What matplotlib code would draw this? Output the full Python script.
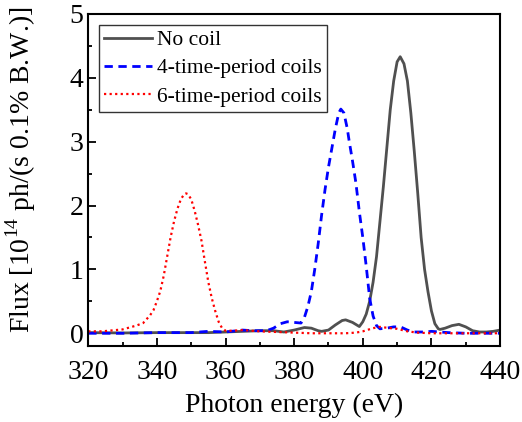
import matplotlib

matplotlib.use("Agg")
import matplotlib.pyplot as plt
from matplotlib.ticker import MultipleLocator

plt.rcParams["font.family"] = ["Liberation Serif", "DejaVu Serif"]
plt.rcParams["mathtext.fontset"] = "custom"
plt.rcParams["mathtext.rm"] = "Liberation Serif"

# values
no_coil_e = [320, 330, 340, 350, 355, 360, 365, 370, 374, 377, 380, 383, 385,
             387, 388, 390, 392, 394, 395, 397, 399, 400, 401, 402, 403, 404,
             405, 406, 407, 408, 409, 410, 410.9, 412, 413, 414, 415, 416, 417,
             418, 419, 420, 421, 422, 422.5, 424, 426, 428, 430, 432, 434, 436,
             438, 440]
no_coil_f = [0.01, 0.005, 0.01, 0.01, 0.01, 0.02, 0.03, 0.04, 0.04, 0.02, 0.05,
             0.09, 0.08, 0.04, 0.03, 0.05, 0.13, 0.2, 0.21, 0.17, 0.105, 0.18,
             0.3, 0.5, 0.8, 1.2, 1.75, 2.3, 2.9, 3.5, 3.95, 4.25, 4.33, 4.22,
             3.95, 3.45, 2.85, 2.2, 1.5, 1.0, 0.65, 0.35, 0.15, 0.07, 0.06, 0.08,
             0.12, 0.14, 0.1, 0.04, 0.02, 0.02, 0.03, 0.05]

coil4_e = [320, 330, 340, 350, 355, 360, 365, 368, 372, 374, 376, 378, 380, 382,
           383, 384, 385, 386, 387, 388, 389, 390, 391, 392, 393, 393.6, 394.5,
           395.5, 396, 397, 398, 399, 400, 401, 402, 403, 404, 405, 407, 409,
           411, 413, 415, 418, 420, 425, 430, 440]
coil4_f = [0.0, 0.0, 0.01, 0.01, 0.03, 0.02, 0.05, 0.04, 0.04, 0.08, 0.15, 0.18,
           0.17, 0.16, 0.25, 0.42, 0.65, 1.0, 1.4, 1.85, 2.25, 2.6, 2.9, 3.2,
           3.45, 3.51, 3.45, 3.2, 3.02, 2.7, 2.35, 1.9, 1.5, 1.05, 0.55, 0.27,
           0.12, 0.07, 0.08, 0.1, 0.1, 0.05, 0.02, 0.02, 0.03, 0.01, 0.0, 0.0]

coil6_e = [320, 324, 328, 330, 332, 334, 336, 337, 338, 339, 340, 341, 342, 343,
           344, 345, 346, 347, 348, 348.5, 349, 350, 351, 352, 353, 354, 355,
           356, 357, 358, 359, 360, 362, 365, 370, 375, 380, 385, 390, 395, 398,
           400, 403, 405, 408, 410, 413, 416, 420, 430, 440]
coil6_f = [0.03, 0.03, 0.05, 0.06, 0.09, 0.12, 0.16, 0.22, 0.28, 0.36, 0.5, 0.66,
           0.9, 1.2, 1.5, 1.75, 1.95, 2.1, 2.18, 2.19, 2.18, 2.1, 1.92, 1.7,
           1.45, 1.12, 0.8, 0.55, 0.35, 0.18, 0.08, 0.04, 0.04, 0.05, 0.03,
           0.02, 0.01, 0.0, 0.0, 0.0, 0.01, 0.03, 0.08, 0.1, 0.08, 0.07, 0.03,
           0.01, 0.0, 0.0, 0.0]

fig = plt.figure(figsize=(5.22, 4.22), dpi=100)
ax = fig.add_axes([0.169, 0.18, 0.789, 0.787])

ax.plot(no_coil_e, no_coil_f, color="#505050", lw=2.0, label="No coil")
ax.plot(coil4_e, coil4_f, color="#0000ff", lw=2.0, ls=(0, (3, 2)),
        label="4-time-period coils")
ax.plot(coil6_e, coil6_f, color="#ff0000", lw=1.6, ls=(0, (1, 1.5)),
        label="6-time-period coils")

ax.set_xlim(320, 440)
ax.set_ylim(-0.2, 5)
ax.xaxis.set_major_locator(MultipleLocator(20))
ax.xaxis.set_minor_locator(MultipleLocator(10))
ax.yaxis.set_major_locator(MultipleLocator(1))
ax.yaxis.set_minor_locator(MultipleLocator(0.5))
ax.tick_params(which="both", direction="in", top=False, right=False,
               labelsize=20, width=1.3)
ax.tick_params(which="major", length=6)
ax.tick_params(which="minor", length=3)
ax.tick_params(axis="x", pad=10)
for s in ax.spines.values():
    s.set_linewidth(1.5)

ax.set_xlabel("Photon energy (eV)", fontsize=20, labelpad=6)
ax.set_ylabel("Flux [10$^{14}$ ph/(s 0.1% B.W.)]", fontsize=20,
              labelpad=23, y=0.53)

leg = ax.legend(loc="upper left", fontsize=15.5, frameon=True, fancybox=False,
                edgecolor="black", handlelength=2.2, handletextpad=0.25,
                borderpad=0.25, labelspacing=0.38, borderaxespad=0.5)
leg.get_frame().set_linewidth(1.0)

fig.savefig("out.png", dpi=100)
